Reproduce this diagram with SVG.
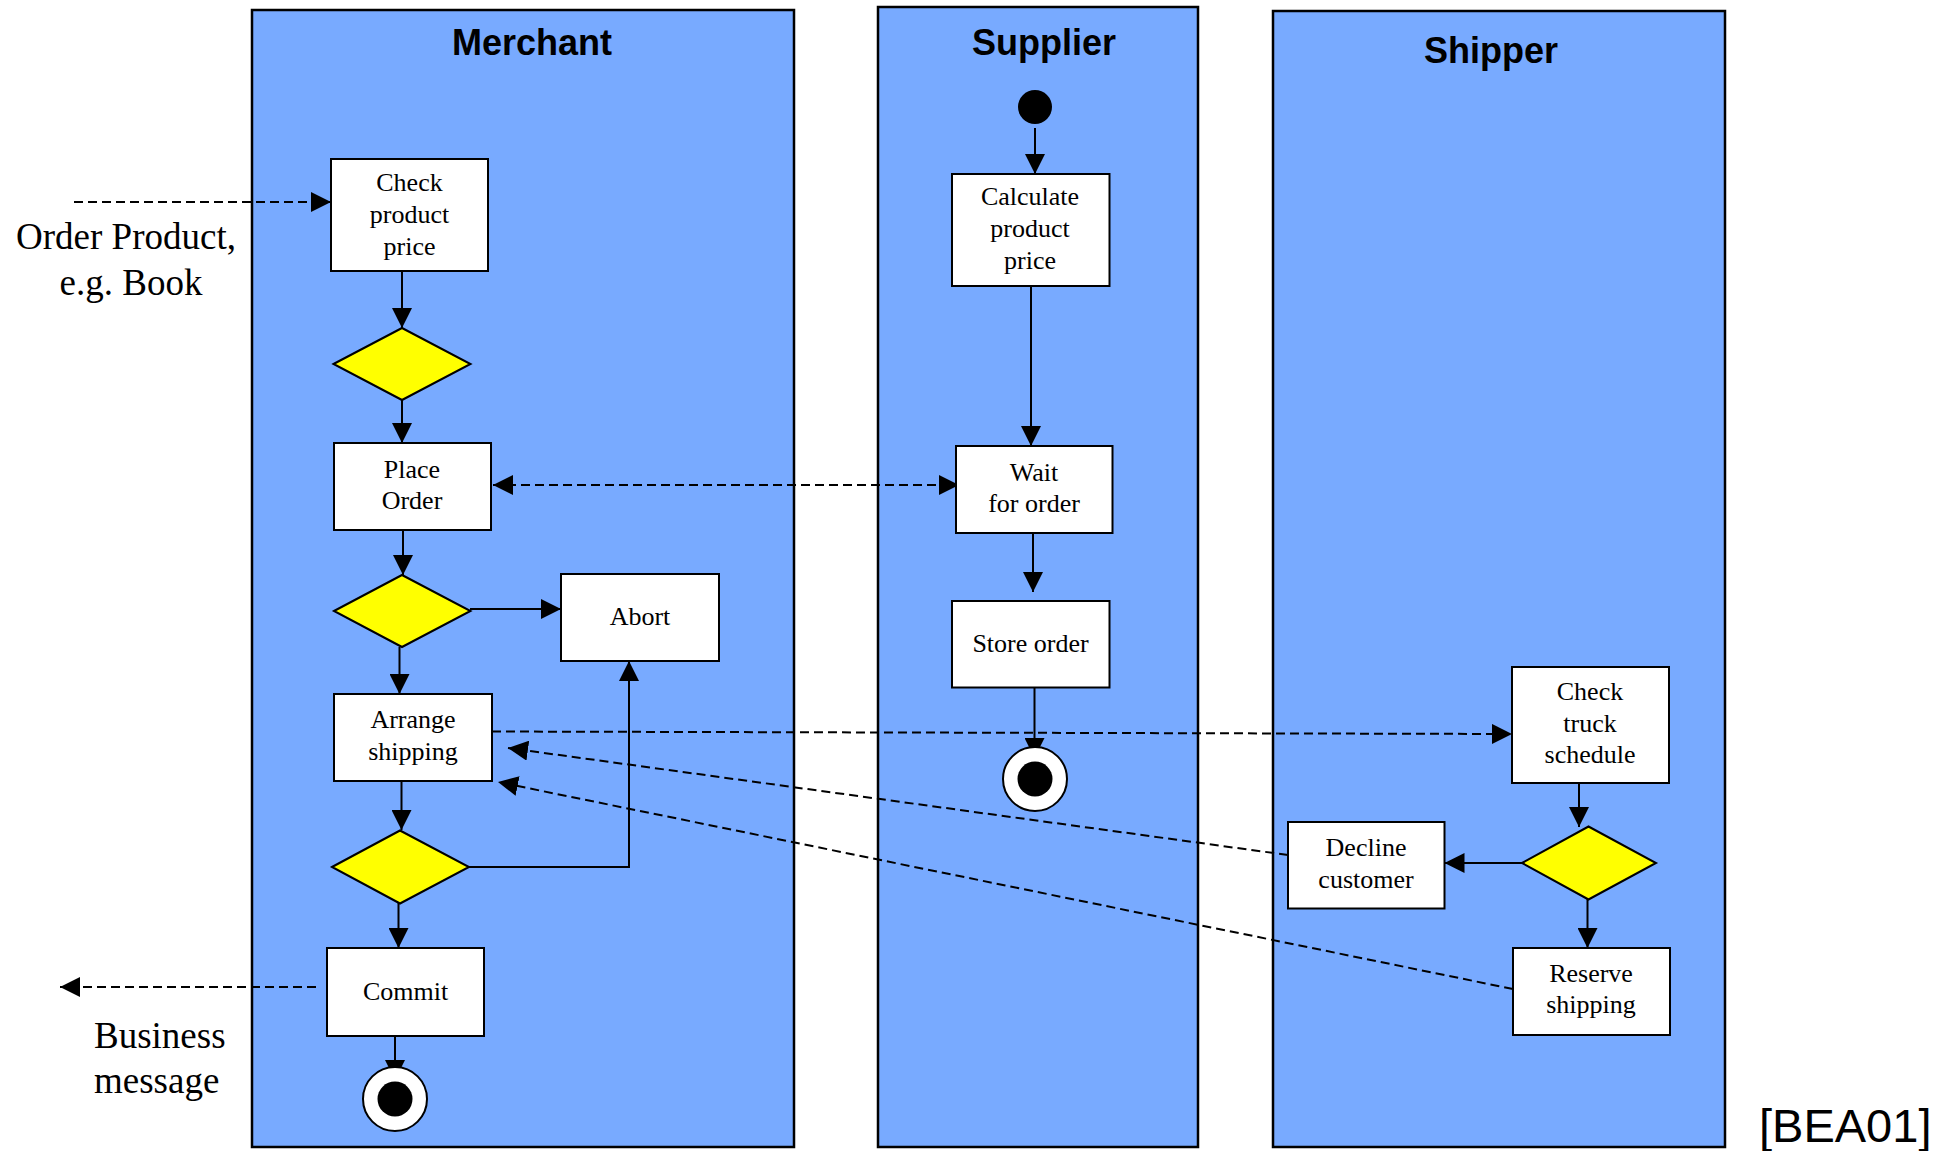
<svg xmlns="http://www.w3.org/2000/svg" width="1952" height="1151" viewBox="0 0 1952 1151">
  <style>
    .lane { fill: #78AAFF; stroke: #000; stroke-width: 2.5; }
    .title { font-family: "Liberation Sans", Arial, sans-serif; font-weight: bold; font-size: 36px; text-anchor: middle; fill: #000; }
    .box { fill: #fff; stroke: #000; stroke-width: 2; }
    .dia { fill: #FFFF00; stroke: #000; stroke-width: 2; }
    .lbl { font-family: "Liberation Serif", "Times New Roman", serif; font-size: 26px; text-anchor: middle; fill: #000; }
    .ext { font-family: "Liberation Serif", "Times New Roman", serif; font-size: 37px; fill: #000; }
    .ref { font-family: "Liberation Sans", Arial, sans-serif; font-size: 47px; fill: #000; }
    .flow { fill: none; stroke: #000; stroke-width: 2; marker-end: url(#arrow); }
    .msg { fill: none; stroke: #000; stroke-width: 2; stroke-dasharray: 9 5; marker-end: url(#arrow); }
    .msg2 { marker-start: url(#arrow); }
  </style>
  <defs>
    <marker id="arrow" markerUnits="userSpaceOnUse" markerWidth="20" markerHeight="20" viewBox="0 0 20 20" refX="20" refY="10" orient="auto-start-reverse">
      <path d="M0,0 L20,10 L0,20 z" fill="#000"/>
    </marker>
  </defs>

  <!-- swimlanes -->
  <g id="lane-merchant">
    <rect class="lane" x="252" y="10" width="542" height="1137"/>
    <text class="title" x="532" y="55">Merchant</text>
  </g>
  <g id="lane-supplier">
    <rect class="lane" x="878" y="7" width="320" height="1140"/>
    <text class="title" x="1044" y="55">Supplier</text>
  </g>
  <g id="lane-shipper">
    <rect class="lane" x="1273" y="11" width="452" height="1136"/>
    <text class="title" x="1491" y="63">Shipper</text>
  </g>

  <!-- connectors -->
  <g id="connectors">
    <line class="flow" x1="402" y1="271" x2="402" y2="328"/>
    <line class="flow" x1="402" y1="400" x2="402" y2="443"/>
    <line class="flow" x1="403" y1="530" x2="403" y2="575"/>
    <line class="flow" x1="470" y1="609" x2="561" y2="609"/>
    <line class="flow" x1="399.5" y1="647" x2="399.5" y2="694"/>
    <line class="flow" x1="401.5" y1="781" x2="401.5" y2="830"/>
    <polyline class="flow" points="469,867 629,867 629,661"/>
    <line class="flow" x1="398.5" y1="903" x2="398.5" y2="948"/>
    <line class="flow" x1="395" y1="1036" x2="395" y2="1080"/>
    <line class="flow" x1="1035" y1="128" x2="1035" y2="174"/>
    <line class="flow" x1="1031" y1="286" x2="1031" y2="446"/>
    <line class="flow" x1="1033" y1="533" x2="1033" y2="592"/>
    <line class="flow" x1="1034.5" y1="683" x2="1034.5" y2="758"/>
    <line class="flow" x1="1579" y1="783" x2="1579" y2="827"/>
    <line class="flow" x1="1522" y1="863" x2="1444.5" y2="863"/>
    <line class="flow" x1="1587.5" y1="899" x2="1587.5" y2="948"/>

    <line class="msg" x1="74" y1="202" x2="331" y2="202"/>
    <line class="msg msg2" x1="493" y1="485" x2="959" y2="485"/>
    <line class="msg" x1="492" y1="731.5" x2="1512" y2="734"/>
    <line class="msg" x1="1288" y1="855" x2="508" y2="748"/>
    <line class="msg" x1="1513" y1="989" x2="498" y2="782"/>
    <line class="msg" x1="316" y1="987" x2="60" y2="987"/>
  </g>

  <!-- merchant nodes -->
  <g id="check-price">
    <rect class="box" x="331" y="159" width="157" height="112"/>
    <text class="lbl" x="409.5" y="191">Check</text>
    <text class="lbl" x="409.5" y="223">product</text>
    <text class="lbl" x="409.5" y="255">price</text>
  </g>
  <g id="decision-price">
    <polygon class="dia" points="333.5,364 402,328 470.5,364 402,400"/>
  </g>
  <g id="place-order">
    <rect class="box" x="334" y="443" width="157" height="87"/>
    <text class="lbl" x="412" y="478">Place</text>
    <text class="lbl" x="412" y="509">Order</text>
  </g>
  <g id="decision-order">
    <polygon class="dia" points="334,611 402,575 470.5,611 402,647"/>
  </g>
  <g id="abort">
    <rect class="box" x="561" y="574" width="158" height="87"/>
    <text class="lbl" x="640" y="625">Abort</text>
  </g>
  <g id="arrange-shipping">
    <rect class="box" x="334" y="694" width="158" height="87"/>
    <text class="lbl" x="413" y="728">Arrange</text>
    <text class="lbl" x="413" y="760">shipping</text>
  </g>
  <g id="decision-shipping">
    <polygon class="dia" points="332,867 400,830.5 469,867 400,903.5"/>
  </g>
  <g id="commit">
    <rect class="box" x="327" y="948" width="157" height="88"/>
    <text class="lbl" x="405.5" y="1000">Commit</text>
  </g>
  <g id="end-merchant">
    <circle cx="395" cy="1099" r="32" fill="#fff" stroke="#000" stroke-width="2"/>
    <circle cx="395" cy="1099" r="17.5" fill="#000"/>
  </g>

  <!-- supplier nodes -->
  <g id="start-supplier">
    <circle cx="1035" cy="107" r="17" fill="#000"/>
  </g>
  <g id="calculate-price">
    <rect class="box" x="952" y="174" width="157.5" height="112"/>
    <text class="lbl" x="1030" y="205">Calculate</text>
    <text class="lbl" x="1030" y="237">product</text>
    <text class="lbl" x="1030" y="269">price</text>
  </g>
  <g id="wait-order">
    <rect class="box" x="956" y="446" width="156.5" height="87"/>
    <text class="lbl" x="1034" y="481">Wait</text>
    <text class="lbl" x="1034" y="512">for order</text>
  </g>
  <g id="store-order">
    <rect class="box" x="952" y="601" width="157.5" height="86.5"/>
    <text class="lbl" x="1030.5" y="652">Store order</text>
  </g>
  <g id="end-supplier">
    <circle cx="1035" cy="779" r="32" fill="#fff" stroke="#000" stroke-width="2"/>
    <circle cx="1035" cy="779" r="17.5" fill="#000"/>
  </g>

  <!-- shipper nodes -->
  <g id="check-truck">
    <rect class="box" x="1512" y="667" width="157" height="116"/>
    <text class="lbl" x="1590" y="700">Check</text>
    <text class="lbl" x="1590" y="732">truck</text>
    <text class="lbl" x="1590" y="763">schedule</text>
  </g>
  <g id="decision-truck">
    <polygon class="dia" points="1522,863 1588.5,826.5 1656,863 1588.5,899.5"/>
  </g>
  <g id="decline-customer">
    <rect class="box" x="1288" y="822" width="156.5" height="86.5"/>
    <text class="lbl" x="1366" y="856">Decline</text>
    <text class="lbl" x="1366" y="888">customer</text>
  </g>
  <g id="reserve-shipping">
    <rect class="box" x="1513" y="948" width="157" height="87"/>
    <text class="lbl" x="1591" y="982">Reserve</text>
    <text class="lbl" x="1591" y="1013">shipping</text>
  </g>

  <!-- external labels -->
  <g id="label-order">
    <text class="ext" x="126" y="249" text-anchor="middle">Order Product,</text>
    <text class="ext" x="131" y="295" text-anchor="middle">e.g. Book</text>
  </g>
  <g id="label-business">
    <text class="ext" x="94" y="1048">Business</text>
    <text class="ext" x="94" y="1093">message</text>
  </g>
  <text class="ref" x="1759" y="1142">[BEA01]</text>
</svg>
